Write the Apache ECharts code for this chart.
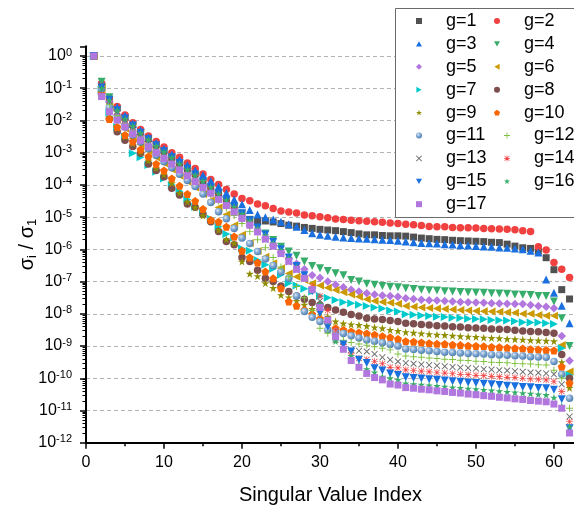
<!DOCTYPE html>
<html>
<head>
<meta charset="utf-8">
<script src="https://cdn.jsdelivr.net/npm/echarts@6/dist/echarts.min.js"></script>
<style>html,body{margin:0;padding:0;background:#fff;}#c{width:574px;height:508px;}</style>
</head>
<body>
<div id="c"></div>
<script>
// Singular value index (x)
const indices = [1,2,3,4,5,6,7,8,9,10,11,12,13,14,15,16,17,18,19,20,21,22,23,24,25,26,27,28,29,30,31,32,33,34,35,36,37,38,39,40,41,42,43,44,45,46,47,48,49,50,51,52,53,54,55,56,57,58,59,60,61,62];
const yTickLabelsExp = [0,-1,-2,-3,-4,-5,-6,-7,-8,-9,-10,-11,-12];
const xTicks = [0,10,20,30,40,50,60];
const seriesNames = ['g=1','g=2','g=3','g=4','g=5','g=6','g=7','g=8','g=9','g=10','g=11','g=12','g=13','g=14','g=15','g=16','g=17'];

// sigma_i / sigma_1 for each g
const g1 = [1,1.26e-1,4.47e-2,2.40e-2,1.26e-2,7.41e-3,4.37e-3,2.75e-3,1.74e-3,1.12e-3,7.08e-4,4.79e-4,3.24e-4,2.19e-4,1.26e-4,7.59e-5,5.13e-5,3.39e-5,2.24e-5,1.32e-5,8.51e-6,7.76e-6,7.59e-6,7.08e-6,6.31e-6,5.62e-6,5.25e-6,4.79e-6,4.47e-6,4.17e-6,3.98e-6,3.80e-6,3.55e-6,3.31e-6,3.02e-6,2.82e-6,2.82e-6,2.69e-6,2.63e-6,2.63e-6,2.57e-6,2.40e-6,2.24e-6,2.14e-6,2.04e-6,2.00e-6,1.91e-6,1.86e-6,1.82e-6,1.78e-6,1.74e-6,1.66e-6,1.62e-6,1.45e-6,1.26e-6,1.12e-6,1.07e-6,8.91e-7,5.50e-7,2.34e-7,5.62e-8,2.88e-8];
const g2 = [1,1.41e-1,5.01e-2,2.69e-2,1.48e-2,8.51e-3,5.25e-3,3.31e-3,2.24e-3,1.51e-3,1.00e-3,7.24e-4,4.79e-4,3.24e-4,2.19e-4,1.48e-4,1.02e-4,7.24e-5,5.25e-5,3.80e-5,3.24e-5,2.57e-5,2.24e-5,1.86e-5,1.55e-5,1.45e-5,1.35e-5,1.17e-5,1.10e-5,1.02e-5,9.55e-6,8.71e-6,8.51e-6,7.94e-6,7.76e-6,7.41e-6,7.24e-6,6.92e-6,6.61e-6,6.31e-6,6.03e-6,5.75e-6,5.50e-6,5.13e-6,5.01e-6,5.01e-6,4.79e-6,4.68e-6,4.68e-6,4.57e-6,4.47e-6,4.37e-6,4.27e-6,4.17e-6,4.07e-6,3.80e-6,3.55e-6,1.20e-6,9.55e-7,3.89e-7,2.40e-7,1.35e-7];
const g3 = [1,1.48e-1,4.90e-2,2.63e-2,1.41e-2,7.94e-3,4.90e-3,3.02e-3,2.00e-3,1.32e-3,8.71e-4,6.03e-4,4.17e-4,2.82e-4,2.00e-4,1.32e-4,8.91e-5,5.62e-5,3.55e-5,2.51e-5,1.66e-5,1.20e-5,1.00e-5,8.51e-6,7.24e-6,6.03e-6,5.01e-6,3.98e-6,3.16e-6,2.82e-6,2.63e-6,2.45e-6,2.34e-6,2.24e-6,2.19e-6,2.14e-6,2.04e-6,2.00e-6,1.95e-6,1.86e-6,1.74e-6,1.66e-6,1.58e-6,1.55e-6,1.51e-6,1.45e-6,1.41e-6,1.35e-6,1.32e-6,1.26e-6,1.23e-6,1.20e-6,1.15e-6,1.12e-6,1.07e-6,1.00e-6,9.12e-7,7.94e-7,1.17e-7,4.47e-8,1.78e-8,5.13e-9];
const g4 = [1,1.58e-1,5.25e-2,2.00e-2,1.02e-2,6.17e-3,3.63e-3,2.24e-3,1.45e-3,9.55e-4,6.31e-4,4.17e-4,2.75e-4,1.82e-4,1.20e-4,7.94e-5,5.25e-5,3.16e-5,2.00e-5,1.20e-5,7.41e-6,4.57e-6,3.09e-6,1.95e-6,1.20e-6,8.51e-7,6.31e-7,4.17e-7,3.02e-7,2.57e-7,2.14e-7,1.82e-7,1.58e-7,1.12e-7,1.00e-7,8.51e-8,7.94e-8,7.24e-8,6.92e-8,6.61e-8,6.17e-8,5.89e-8,5.62e-8,5.37e-8,5.25e-8,5.01e-8,4.90e-8,4.79e-8,4.68e-8,4.57e-8,4.47e-8,4.37e-8,4.27e-8,4.17e-8,3.98e-8,3.89e-8,3.80e-8,3.55e-8,3.55e-8,2.40e-8,7.24e-9,1.00e-9];
const g5 = [1,6.92e-2,3.80e-2,1.48e-2,7.59e-3,4.47e-3,2.63e-3,1.66e-3,1.07e-3,7.08e-4,4.68e-4,3.02e-4,2.00e-4,1.32e-4,8.91e-5,5.62e-5,3.55e-5,2.24e-5,1.41e-5,8.91e-6,5.62e-6,3.55e-6,2.24e-6,1.32e-6,7.94e-7,5.25e-7,3.55e-7,2.40e-7,1.58e-7,1.32e-7,1.00e-7,7.94e-8,6.61e-8,5.62e-8,4.90e-8,4.37e-8,3.98e-8,3.72e-8,3.55e-8,3.39e-8,3.02e-8,2.88e-8,2.75e-8,2.63e-8,2.57e-8,2.51e-8,2.40e-8,2.34e-8,2.29e-8,2.24e-8,2.19e-8,2.14e-8,2.09e-8,2.04e-8,2.00e-8,2.00e-8,1.86e-8,1.74e-8,1.66e-8,1.48e-8,2.04e-9,3.47e-10];
const g6 = [1,1.07e-1,2.69e-2,1.05e-2,5.62e-3,2.82e-3,1.78e-3,1.12e-3,7.08e-4,4.68e-4,3.02e-4,1.91e-4,1.26e-4,8.32e-5,5.25e-5,3.31e-5,2.00e-5,1.20e-5,5.62e-6,2.82e-6,1.58e-6,8.91e-7,5.89e-7,3.72e-7,2.57e-7,1.78e-7,1.41e-7,1.12e-7,8.91e-8,7.59e-8,6.46e-8,5.50e-8,4.68e-8,3.98e-8,3.39e-8,2.82e-8,2.51e-8,2.34e-8,2.19e-8,2.04e-8,1.74e-8,1.66e-8,1.58e-8,1.51e-8,1.45e-8,1.41e-8,1.35e-8,1.32e-8,1.26e-8,1.23e-8,1.20e-8,1.17e-8,1.15e-8,1.12e-8,1.07e-8,1.00e-8,1.00e-8,9.12e-9,8.71e-9,8.71e-9,1.07e-9,1.62e-10];
const g7 = [1,8.91e-2,1.78e-2,6.31e-3,3.16e-3,9.55e-4,7.24e-4,4.17e-4,2.57e-4,1.58e-4,1.00e-4,6.31e-5,3.55e-5,2.09e-5,1.41e-5,8.91e-6,5.01e-6,3.02e-6,2.34e-6,1.07e-6,9.12e-7,4.68e-7,3.31e-7,2.51e-7,1.62e-7,8.91e-8,7.59e-8,6.03e-8,4.90e-8,3.55e-8,3.16e-8,2.69e-8,2.29e-8,2.14e-8,1.91e-8,1.74e-8,1.58e-8,1.45e-8,1.26e-8,1.17e-8,9.77e-9,9.33e-9,8.91e-9,8.51e-9,8.13e-9,7.94e-9,7.59e-9,7.41e-9,7.08e-9,6.92e-9,6.76e-9,6.46e-9,6.31e-9,6.17e-9,5.89e-9,5.50e-9,5.37e-9,5.37e-9,5.13e-9,4.79e-9,8.51e-10,1.26e-10];
const g8 = [1,6.31e-2,1.10e-2,4.47e-3,2.45e-3,1.55e-3,9.55e-4,4.47e-4,2.82e-4,1.78e-4,7.94e-5,4.90e-5,2.57e-5,2.04e-5,1.20e-5,7.24e-6,3.55e-6,1.74e-6,1.38e-6,5.62e-7,4.17e-7,2.24e-7,1.26e-7,1.00e-7,7.24e-8,4.90e-8,3.55e-8,2.82e-8,2.24e-8,1.86e-8,1.58e-8,1.32e-8,1.12e-8,9.55e-9,8.51e-9,7.24e-9,6.92e-9,6.61e-9,6.17e-9,5.75e-9,5.13e-9,4.90e-9,4.68e-9,4.47e-9,4.27e-9,4.17e-9,3.98e-9,3.89e-9,3.72e-9,3.63e-9,3.55e-9,3.39e-9,3.31e-9,3.24e-9,3.09e-9,2.95e-9,2.82e-9,2.75e-9,2.63e-9,2.51e-9,5.50e-10,1.00e-10];
const g9 = [1,7.94e-2,1.26e-2,5.62e-3,3.16e-3,1.91e-3,1.05e-3,5.62e-4,3.31e-4,2.09e-4,1.12e-4,5.62e-5,3.02e-5,2.00e-5,1.12e-5,7.76e-6,3.98e-6,2.04e-6,1.55e-6,4.17e-7,1.74e-7,1.48e-7,8.91e-8,6.31e-8,3.80e-8,3.24e-8,2.51e-8,1.91e-8,1.41e-8,1.12e-8,8.13e-9,5.75e-9,5.01e-9,4.68e-9,4.47e-9,4.17e-9,3.80e-9,3.55e-9,3.16e-9,2.95e-9,2.69e-9,2.57e-9,2.45e-9,2.34e-9,2.24e-9,2.19e-9,2.09e-9,2.00e-9,1.95e-9,1.91e-9,1.82e-9,1.78e-9,1.74e-9,1.66e-9,1.62e-9,1.58e-9,1.51e-9,1.48e-9,1.45e-9,1.41e-9,3.16e-10,5.01e-11];
const g10 = [1,7.08e-2,1.10e-2,6.31e-3,3.55e-3,2.24e-3,1.26e-3,7.59e-4,4.47e-4,2.82e-4,1.58e-4,9.33e-5,5.25e-5,3.16e-5,1.78e-5,8.13e-6,7.24e-6,5.01e-6,2.51e-6,9.12e-7,5.62e-7,3.89e-7,2.04e-7,1.26e-7,6.17e-8,2.40e-8,1.78e-8,1.32e-8,9.77e-9,7.08e-9,5.37e-9,3.55e-9,3.16e-9,2.82e-9,2.63e-9,2.45e-9,2.24e-9,2.00e-9,1.86e-9,1.66e-9,1.41e-9,1.35e-9,1.29e-9,1.23e-9,1.17e-9,1.15e-9,1.10e-9,1.07e-9,1.02e-9,1.00e-9,9.77e-10,9.33e-10,9.12e-10,8.91e-10,8.51e-10,8.32e-10,7.94e-10,7.76e-10,7.59e-10,7.24e-10,2.29e-10,7.08e-11];
const g11 = [1,9.55e-2,2.51e-2,1.12e-2,6.31e-3,3.55e-3,2.14e-3,1.32e-3,8.32e-4,5.25e-4,3.39e-4,2.14e-4,1.38e-4,8.91e-5,5.25e-5,2.82e-5,1.48e-5,8.91e-6,4.47e-6,2.24e-6,1.51e-6,8.51e-7,5.01e-7,3.16e-7,2.00e-7,1.26e-7,3.55e-8,1.17e-8,7.76e-9,5.75e-9,3.16e-9,2.75e-9,2.45e-9,2.09e-9,1.78e-9,1.55e-9,1.41e-9,1.26e-9,1.12e-9,1.00e-9,8.13e-10,7.76e-10,7.41e-10,7.08e-10,6.76e-10,6.46e-10,6.31e-10,6.03e-10,5.89e-10,5.75e-10,5.62e-10,5.37e-10,5.25e-10,5.13e-10,5.01e-10,4.90e-10,4.68e-10,4.57e-10,4.47e-10,3.31e-10,1.32e-10,2.40e-11];
const g12 = [1,1.12e-1,3.16e-2,1.41e-2,7.94e-3,4.68e-3,2.82e-3,1.78e-3,1.12e-3,7.08e-4,4.68e-4,3.02e-4,2.00e-4,1.26e-4,7.94e-5,5.01e-5,3.16e-5,1.91e-5,1.12e-5,6.31e-6,3.55e-6,2.00e-6,1.12e-6,5.62e-7,2.82e-7,1.41e-7,7.08e-8,3.16e-8,1.26e-8,3.55e-9,2.51e-9,1.78e-9,1.51e-9,1.29e-9,1.15e-9,1.05e-9,9.55e-10,8.51e-10,7.59e-10,5.62e-10,4.90e-10,4.68e-10,4.47e-10,4.27e-10,4.07e-10,3.89e-10,3.80e-10,3.63e-10,3.55e-10,3.39e-10,3.31e-10,3.16e-10,3.09e-10,3.02e-10,2.88e-10,2.82e-10,2.75e-10,2.63e-10,2.57e-10,1.78e-10,1.00e-10,1.17e-11];
const g13 = [1,1.26e-1,3.98e-2,1.91e-2,1.05e-2,6.31e-3,3.80e-3,2.40e-3,1.51e-3,1.00e-3,6.31e-4,4.17e-4,2.75e-4,1.82e-4,1.20e-4,7.59e-5,4.79e-5,3.02e-5,1.78e-5,1.05e-5,6.03e-6,3.55e-6,2.00e-6,1.20e-6,7.08e-7,3.98e-7,2.24e-7,1.20e-7,5.62e-8,2.51e-8,6.31e-9,1.55e-9,1.00e-9,7.59e-10,7.08e-10,6.76e-10,5.62e-10,4.47e-10,3.72e-10,3.31e-10,2.95e-10,2.82e-10,2.69e-10,2.57e-10,2.45e-10,2.34e-10,2.24e-10,2.14e-10,2.09e-10,2.00e-10,1.91e-10,1.86e-10,1.78e-10,1.74e-10,1.66e-10,1.58e-10,1.51e-10,1.48e-10,1.41e-10,1.32e-10,6.46e-11,6.46e-12];
const g14 = [1,1.20e-1,4.17e-2,2.00e-2,1.10e-2,6.61e-3,3.98e-3,2.51e-3,1.58e-3,1.05e-3,6.76e-4,4.47e-4,2.95e-4,1.95e-4,1.26e-4,7.94e-5,5.01e-5,3.16e-5,1.91e-5,1.12e-5,6.61e-6,3.98e-6,2.40e-6,1.41e-6,8.32e-7,4.79e-7,2.63e-7,1.41e-7,7.08e-8,3.55e-8,1.26e-8,3.16e-9,1.12e-9,6.03e-10,4.17e-10,3.80e-10,3.31e-10,2.82e-10,2.19e-10,2.09e-10,1.82e-10,1.74e-10,1.66e-10,1.58e-10,1.51e-10,1.45e-10,1.38e-10,1.32e-10,1.29e-10,1.23e-10,1.20e-10,1.15e-10,1.12e-10,1.07e-10,1.05e-10,1.00e-10,9.55e-11,9.33e-11,8.91e-11,7.94e-11,3.89e-11,4.47e-12];
const g15 = [1,1.05e-1,4.37e-2,2.09e-2,1.15e-2,6.92e-3,4.17e-3,2.63e-3,1.70e-3,1.10e-3,7.24e-4,4.79e-4,3.16e-4,2.09e-4,1.35e-4,8.71e-5,5.50e-5,3.47e-5,2.14e-5,1.32e-5,7.94e-6,4.79e-6,2.88e-6,1.70e-6,1.00e-6,5.62e-7,3.02e-7,1.58e-7,5.01e-8,1.05e-8,3.98e-9,1.78e-9,1.12e-9,6.76e-10,3.72e-10,2.95e-10,2.04e-10,1.74e-10,1.41e-10,1.26e-10,1.07e-10,1.02e-10,9.77e-11,9.33e-11,8.91e-11,8.51e-11,8.13e-11,7.76e-11,7.41e-11,7.08e-11,6.76e-11,6.46e-11,6.17e-11,5.89e-11,5.62e-11,5.37e-11,5.25e-11,5.01e-11,4.90e-11,4.37e-11,2.24e-11,2.82e-12];
const g16 = [1,1.00e-1,4.17e-2,2.04e-2,1.12e-2,6.76e-3,4.07e-3,2.57e-3,1.62e-3,1.07e-3,7.08e-4,4.57e-4,3.02e-4,2.00e-4,1.32e-4,8.51e-5,5.37e-5,3.39e-5,2.09e-5,1.26e-5,7.59e-6,4.47e-6,2.69e-6,1.58e-6,9.33e-7,5.25e-7,2.82e-7,1.32e-7,5.25e-8,2.00e-8,5.62e-9,1.41e-9,7.94e-10,4.90e-10,2.57e-10,1.91e-10,1.51e-10,1.12e-10,1.00e-10,8.91e-11,6.92e-11,6.61e-11,6.31e-11,6.03e-11,5.75e-11,5.50e-11,5.25e-11,5.01e-11,4.79e-11,4.57e-11,4.37e-11,4.17e-11,3.98e-11,3.80e-11,3.63e-11,3.47e-11,3.31e-11,3.16e-11,3.02e-11,2.51e-11,1.38e-11,3.16e-12];
const g17 = [1,5.50e-2,1.86e-2,1.02e-2,6.31e-3,3.80e-3,2.40e-3,1.51e-3,1.00e-3,6.61e-4,4.37e-4,2.88e-4,1.91e-4,1.26e-4,8.32e-5,5.50e-5,3.55e-5,2.29e-5,1.45e-5,9.12e-6,5.62e-6,3.47e-6,2.09e-6,1.26e-6,7.41e-7,4.27e-7,2.40e-7,1.26e-7,5.62e-8,1.58e-8,6.31e-9,1.95e-9,7.94e-10,3.55e-10,2.19e-10,1.41e-10,1.05e-10,8.91e-11,6.61e-11,6.17e-11,5.13e-11,4.90e-11,4.57e-11,4.37e-11,4.07e-11,3.89e-11,3.63e-11,3.47e-11,3.24e-11,3.09e-11,2.88e-11,2.75e-11,2.57e-11,2.45e-11,2.29e-11,2.19e-11,2.04e-11,1.95e-11,1.86e-11,1.58e-11,1.17e-11,2.00e-12];

const allValues = [g1,g2,g3,g4,g5,g6,g7,g8,g9,g10,g11,g12,g13,g14,g15,g16,g17];

// minor tick positions of the log axis (2..9 within each decade)
const minorTickValues = [];
for (let d = -12; d <= -1; d++) {
  for (let m = 2; m <= 9; m++) minorTickValues.push(m * Math.pow(10, d));
}

const FONT = '"Liberation Sans", Arial, sans-serif';
const UP = 'path://M50,0L100,87H0Z';
const DOWN = 'path://M0,0H100L50,87Z';
const LEFT = 'path://M87,0V100L0,50Z';
const RIGHT = 'path://M0,0V100L87,50Z';
const STAR = 'path://M50,0L61.2,34.5L97.6,34.5L68.2,55.9L79.4,90.5L50,69.1L20.6,90.5L31.8,55.9L2.4,34.5L38.8,34.5Z';
const PENTA = 'path://M50,0L97.6,34.5L79.4,90.5L20.6,90.5L2.4,34.5Z';
const PLUS = 'path://M43,0H57V43H100V57H57V100H43V57H0V43H43Z';
const CROSS = 'path://M10,0L50,40L90,0L100,10L60,50L100,90L90,100L50,60L10,100L0,90L40,50L0,10Z';
const ASTER = 'path://M45,0H55V100H45Z M0,45H100V55H0Z M7,14L14,7L93,86L86,93Z M86,7L93,14L14,93L7,86Z';
const sphere = {type:'radial', x:0.38, y:0.35, r:0.65, colorStops:[{offset:0,color:'#dfe9f5'},{offset:0.45,color:'#86acd6'},{offset:1,color:'#4f7fb0'}]};

const styles = [
  {color:'#515151', symbol:'rect', size:7},
  {color:'#F14040', symbol:'circle', size:7.5},
  {color:'#1A6FDF', symbol:UP, size:8},
  {color:'#37AD6B', symbol:DOWN, size:8},
  {color:'#B177DE', symbol:'diamond', size:8.5},
  {color:'#CC9900', symbol:LEFT, size:8},
  {color:'#00CBCC', symbol:RIGHT, size:8},
  {color:'#7D4E4E', symbol:'circle', size:7.5},
  {color:'#8E8E00', symbol:STAR, size:8},
  {color:'#FB6501', symbol:PENTA, size:8},
  {color:sphere, symbol:'circle', size:7.5},
  {color:'#7FC241', symbol:PLUS, size:7},
  {color:'#6a6a6a', symbol:CROSS, size:6.5},
  {color:'#F14040', symbol:ASTER, size:7},
  {color:'#1A6FDF', symbol:DOWN, size:8},
  {color:'#37AD6B', symbol:STAR, size:7.5},
  {color:'#B177DE', symbol:'rect', size:7}
];

const series = seriesNames.map((name, k) => ({
  name: name,
  type: 'scatter',
  yAxisIndex: 0,
  data: indices.map((x, i) => [x, allValues[k][i]]),
  symbol: styles[k].symbol,
  symbolSize: styles[k].size,
  itemStyle: {color: styles[k].color, opacity: 1},
  z: 2
}));

const legendCommon = {
  orient: 'vertical',
  itemWidth: 6,
  itemHeight: 6,
  itemGap: 4.9,
  selectedMode: false,
  padding: 0,
  z: 5,
  textStyle: {fontFamily: FONT, fontSize: 18, lineHeight: 18, color: '#000', padding: [0,0,0,19]}
};

const chart = echarts.init(document.getElementById('c'), null, {renderer: 'canvas'});
chart.setOption({
  animation: false,
  backgroundColor: '#fff',
  grid: {left: 86, right: -1, top: 46.3, bottom: 65.3, containLabel: false, outerBoundsMode: 'none'},
  graphic: [{
    type: 'rect', z: 3, silent: true,
    shape: {x: 395.5, y: 8.5, width: 190, height: 209},
    style: {fill: '#fff', stroke: '#6b6b6b', lineWidth: 1}
  }],
  legend: [
    Object.assign({}, legendCommon, {left: 416, top: 12, data: ['g=1','g=3','g=5','g=7','g=9','g=11','g=13','g=15','g=17']}),
    Object.assign({}, legendCommon, {left: 494, top: 12, data: ['g=2','g=4','g=6','g=8','g=10']}),
    Object.assign({}, legendCommon, {left: 504, top: 12 + 5 * 22.9, data: ['g=12','g=14','g=16']})
  ],
  xAxis: {
    type: 'value', min: xTicks[0], max: 62.7, interval: 10,
    name: 'Singular Value Index', nameLocation: 'middle', nameGap: 43, nameMoveOverlap: false,
    nameTextStyle: {fontFamily: FONT, fontSize: 20, color: '#000'},
    axisLine: {show: true, onZero: false, lineStyle: {color: '#000', width: 2}},
    axisTick: {show: true, length: 6, lineStyle: {color: '#000', width: 1.5}},
    minorTick: {show: true, splitNumber: 2, length: 3.5, lineStyle: {color: '#000', width: 1.5}},
    axisLabel: {fontFamily: FONT, fontSize: 16, color: '#000', margin: 12,
      formatter: v => (xTicks.indexOf(v) >= 0 ? String(v) : '')},
    splitLine: {show: false}
  },
  yAxis: [{
    type: 'log', logBase: 10, min: 1e-12, max: 2, interval: 1, splitNumber: 12,
    name: '{a|σ}{sub|i}{a| / σ}{sub|1}', nameLocation: 'middle', nameGap: 47, nameRotate: 90, nameMoveOverlap: false,
    nameTextStyle: {fontFamily: FONT, color: '#000',
      rich: {
        a: {fontFamily: FONT, fontSize: 20, lineHeight: 24, color: '#000', verticalAlign: 'middle'},
        sub: {fontFamily: FONT, fontSize: 13, lineHeight: 13, color: '#000', verticalAlign: 'bottom'}
      }},
    axisLine: {show: true, lineStyle: {color: '#000', width: 2}},
    axisTick: {show: true, length: 6, lineStyle: {color: '#000', width: 1.5}},
    axisLabel: {
      margin: 14,
      formatter: function (v) {
        const lg = Math.log10(v);
        const e = Math.round(lg);
        if (Math.abs(lg - e) > 1e-6 || yTickLabelsExp.indexOf(e) < 0) return '';
        return '{b|10}{s|' + e + '}';
      },
      rich: {
        b: {fontFamily: FONT, fontSize: 16, lineHeight: 18, color: '#000'},
        s: {fontFamily: FONT, fontSize: 11, lineHeight: 11, color: '#000', verticalAlign: 'top'}
      }
    },
    splitLine: {show: true, showMinLine: false, showMaxLine: false,
      lineStyle: {color: '#b3b3b3', width: 1, type: [4, 3]}}
  }, {
    type: 'log', logBase: 10, min: 1e-12, max: 2, interval: 1, position: 'left',
    axisLine: {show: false},
    axisLabel: {show: false},
    splitLine: {show: false},
    axisTick: {show: true, length: 3.5, customValues: minorTickValues, lineStyle: {color: '#000', width: 1}}
  }],
  series: series
});
</script>
</body>
</html>
